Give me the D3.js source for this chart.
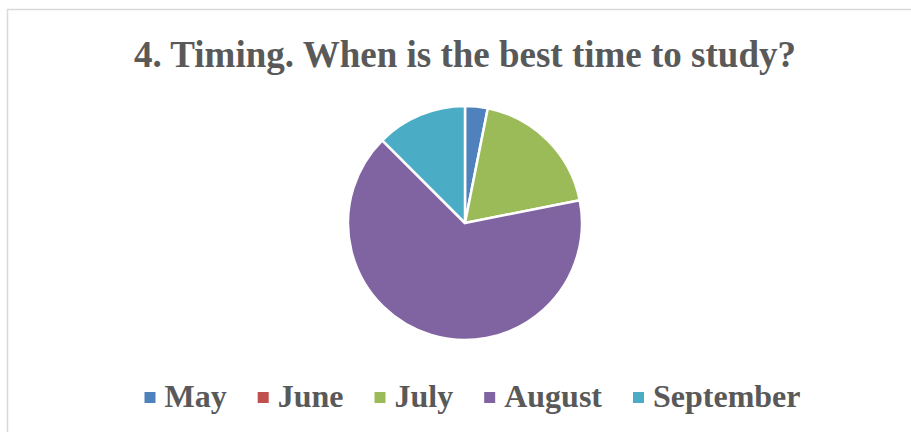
<!DOCTYPE html>
<html>
<head>
<meta charset="utf-8">
<script src="https://cdn.jsdelivr.net/npm/d3@7"></script>
<style>
  body { margin: 0; background: #fff; }
  svg { display: block; }
</style>
</head>
<body>
<div id="chart"></div>
<script>
// Pie data
const months = ["May", "June", "July", "August", "September"];
const counts = [1, 0, 6, 21, 4];
const colors = ["#4F81BD", "#C0504D", "#9BBB59", "#8064A2", "#4BACC6"];
const title = "4. Timing. When is the best time to study?";

const width = 911, height = 432;
const cx = 465, cy = 223, radius = 117;
const font = "'Liberation Serif', 'Times New Roman', serif";
const textColor = "#595959";

const svg = d3.select("#chart").append("svg")
              .attr("width", width)
              .attr("height", height);

// chart area border (only top and left visible in the crop)
svg.append("path")
   .attr("d", `M7.5,${height} L7.5,9.5 L${width},9.5`)
   .attr("fill", "none")
   .attr("stroke", "#d9d9d9")
   .attr("stroke-width", 1.5);

svg.append("text")
   .attr("x", 465)
   .attr("y", 67)
   .attr("text-anchor", "middle")
   .attr("font-family", font)
   .attr("font-weight", "bold")
   .attr("font-size", 37)
   .attr("fill", textColor)
   .text(title);

const data = months.map((m, i) => ({ name: m, value: counts[i], color: colors[i] }));

const pie = d3.pie().sort(null).value(d => d.value);
const arc = d3.arc().innerRadius(0).outerRadius(radius);

svg.append("g")
   .attr("transform", `translate(${cx},${cy})`)
   .selectAll("path")
   .data(pie(data).filter(d => d.data.value > 0))
   .enter().append("path")
   .attr("d", arc)
   .attr("fill", d => d.data.color)
   .attr("stroke", "#fff")
   .attr("stroke-width", 2.5)
   .attr("stroke-linejoin", "round");

// Legend, laid out from measured text widths and centred
const legend = svg.append("g");
const items = legend.selectAll("g")
                    .data(data)
                    .enter().append("g");
items.append("rect")
     .attr("width", 11)
     .attr("height", 11)
     .attr("y", 392)
     .attr("fill", d => d.color);
items.append("text")
     .attr("x", 20)
     .attr("y", 407)
     .attr("font-family", font)
     .attr("font-weight", "bold")
     .attr("font-size", 32)
     .attr("fill", textColor)
     .text(d => d.name);

let x = 0;
const gap = 31;
items.each(function() {
  const w = d3.select(this).select("text").node().getComputedTextLength();
  d3.select(this).attr("transform", `translate(${x},0)`);
  x += 20 + w + gap;
});
const total = x - gap;
legend.attr("transform", `translate(${(145 + 800) / 2 - total / 2},0)`);
</script>
</body>
</html>
